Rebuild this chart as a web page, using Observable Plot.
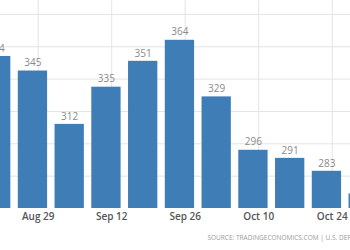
<!DOCTYPE html>
<html>
<head>
<meta charset="utf-8">
<script src="https://cdn.jsdelivr.net/npm/d3@7"></script>
<script src="https://cdn.jsdelivr.net/npm/@observablehq/plot@0.6"></script>
<style>
  html, body { margin: 0; padding: 0; background: #fff; overflow: hidden; }
  #chart svg { display: block; }
</style>
</head>
<body>
<div id="chart"></div>
<script>
// Weekly values (thousands)
const weeks = ["2022-08-21", "2022-08-28", "2022-09-04", "2022-09-11", "2022-09-18", "2022-09-25",
               "2022-10-02", "2022-10-09", "2022-10-16", "2022-10-23", "2022-10-30"];
const values = [354, 345, 312, 335, 351, 364, 329, 296, 291, 283, 269];
const tickDates = ["2022-08-29", "2022-09-12", "2022-09-26", "2022-10-10", "2022-10-24"];
const yTicks = [280, 300, 320, 340, 360, 380];
const caption = "SOURCE: TRADINGECONOMICS.COM | U.S. DEPARTMENT OF LABOR";

const DAY = 864e5;
const data = weeks.map((w, i) => ({date: new Date(w + "T00:00Z"), value: values[i]}));
const ticks = tickDates.map(d => new Date(d + "T00:00Z"));
const t0 = new Date("2022-08-29T00:00Z").getTime();
const t1 = new Date("2022-10-24T00:00Z").getTime();

const chart = Plot.plot({
  width: 350,
  height: 250,
  marginTop: 0,
  marginLeft: 0,
  marginRight: 0,
  marginBottom: 42,
  style: {fontFamily: "'Open Sans', sans-serif", background: "#fff"},
  x: {type: "utc", domain: [new Date(t0 - 7.18 * DAY), new Date(t1 + 3.49 * DAY)], axis: null},
  y: {domain: [260, 388.6], axis: null},
  marks: [
    Plot.gridY(yTicks, {stroke: "#e4e4e4", strokeOpacity: 1}),
    Plot.gridX(ticks, {stroke: "#e4e4e4", strokeOpacity: 1}),
    Plot.rectY(data, {
      x1: d => new Date(d.date.getTime() - 2.79 * DAY),
      x2: d => new Date(d.date.getTime() + 2.79 * DAY),
      y1: 260,
      y2: "value",
      fill: "#3f7db6"
    }),
    Plot.text(data, {x: "date", y: "value", text: d => String(d.value), dy: -8, fill: "#8a8a8a", fontSize: 10}),
    Plot.axisX(ticks, {tickFormat: d3.utcFormat("%b %d"), tickSize: 0, tickPadding: 4, fontSize: 10, fill: "#555", fontWeight: 600}),
    Plot.text([caption], {frameAnchor: "bottom-left", dx: 207, dy: 31, textAnchor: "start", fontSize: 6.5, fill: "#9a9a9a", style: "letter-spacing:0.6px"})
  ]
});
document.getElementById("chart").append(chart);
</script>
</body>
</html>
